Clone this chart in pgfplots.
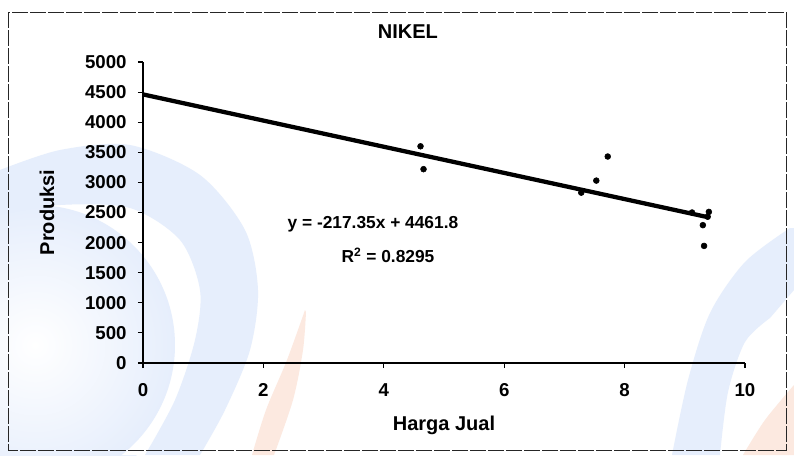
\documentclass[border=0pt]{standalone}
\usepackage{fontspec}
\setmainfont{Liberation Sans}
\usepackage{pgfplots}
\pgfplotsset{compat=1.18}
\definecolor{wmblue}{HTML}{E6EEFC}
\definecolor{wmorange}{HTML}{FCE9E0}

\begin{document}
\begin{tikzpicture}
% page and scanned background, in pixels of the reference
\begin{scope}[shift={(-107.25pt,272.25pt)}, x=0.75pt, y=-0.75pt]
\useasboundingbox (0,0) rectangle (794,455);
\fill[white] (0,0) rectangle (794,455);
\shade[inner color=white, outer color=wmblue] (35,345) ellipse (150 and 150);
\fill[white] plot[smooth] coordinates {(0,175) (60,158) (130,155) (195,180) (238,232) (250,290) (242,350) (218,410) (195,455)}
  -- (150,455) -- (0,455) -- cycle;
\shade[inner color=white, outer color=wmblue] (35,345) ellipse (140 and 140);
\fill[wmblue] plot[smooth] coordinates {(0,170) (60,150) (130,145) (200,175) (245,230) (258,290) (250,350) (225,410) (200,455)}
  -- plot[smooth] coordinates {(145,455) (175,400) (195,340) (200,290) (180,240) (130,208) (60,205) (0,215)} -- cycle;
\fill[wmorange] plot[smooth] coordinates {(305,310) (287,360) (266,410) (252,455)}
  -- plot[smooth] coordinates {(274,455) (293,400) (303,350) (306,312)} -- cycle;
\fill[wmblue] plot[smooth] coordinates {(672,455) (688,380) (710,313) (745,262) (790,228)}
  -- (794,228) -- (794,290) -- plot[smooth] coordinates {(770,318) (745,342) (728,392) (720,455)} -- cycle;
\fill[wmorange] plot[smooth] coordinates {(743,455) (765,420) (794,385)} -- (794,455) -- cycle;
\draw[black!85, line width=0.7pt, dash pattern=on 12pt off 1.5pt] (8,12) rectangle (786,450);
\end{scope}

\begin{axis}[
    scale only axis,
    width=451.5pt, height=225.75pt,
    xmin=0, xmax=10, ymin=0, ymax=5000,
    axis lines*=left,
    axis line style={black, line width=0.8pt},
    xtick={0,2,...,10}, ytick={0,500,...,5000},
    tick align=outside, major tick length=3.75pt,
    tick style={black, line width=0.8pt},
    ticklabel style={font=\bfseries\fontsize{14}{14}\selectfont},
    xticklabel style={yshift=-8pt},
    yticklabel style={xshift=-5pt},
    scaled y ticks=false,
    title={NIKEL},
    title style={font=\bfseries\fontsize{15}{15}\selectfont, at={(axis description cs:0.44,1.073)}, anchor=center},
    xlabel={Harga Jual},
    xlabel style={font=\bfseries\fontsize{15}{15}\selectfont, at={(axis description cs:0.5,-0.206)}, anchor=center},
    ylabel={Produksi},
    ylabel style={font=\bfseries\fontsize{15}{15}\selectfont, at={(axis description cs:-0.1595,0.5)}, anchor=center},
    clip=false,
    /pgf/number format/.cd, 1000 sep={}, assume math mode=true,
]
% observed points
\addplot[only marks, mark=*, mark size=2.2pt, black] coordinates {
    (4.61,3600) (4.66,3220) (7.28,2830) (7.53,3030) (7.72,3430)
    (9.12,2500) (9.30,2290) (9.32,1945) (9.38,2430) (9.40,2510)
};
% linear trend y = -217.35x + 4461.8
\addplot[black, line width=3.2pt] coordinates {(0,4461.8) (9.40,2418.7)};
\node[font=\bfseries\fontsize{13}{13}\selectfont] at (axis cs:3.82,2309) {y = -217.35x + 4461.8};
\node[font=\bfseries\fontsize{13}{13}\selectfont] at (axis cs:4.07,1794) {R\textsuperscript{2} = 0.8295};
\end{axis}
\end{tikzpicture}
\end{document}
